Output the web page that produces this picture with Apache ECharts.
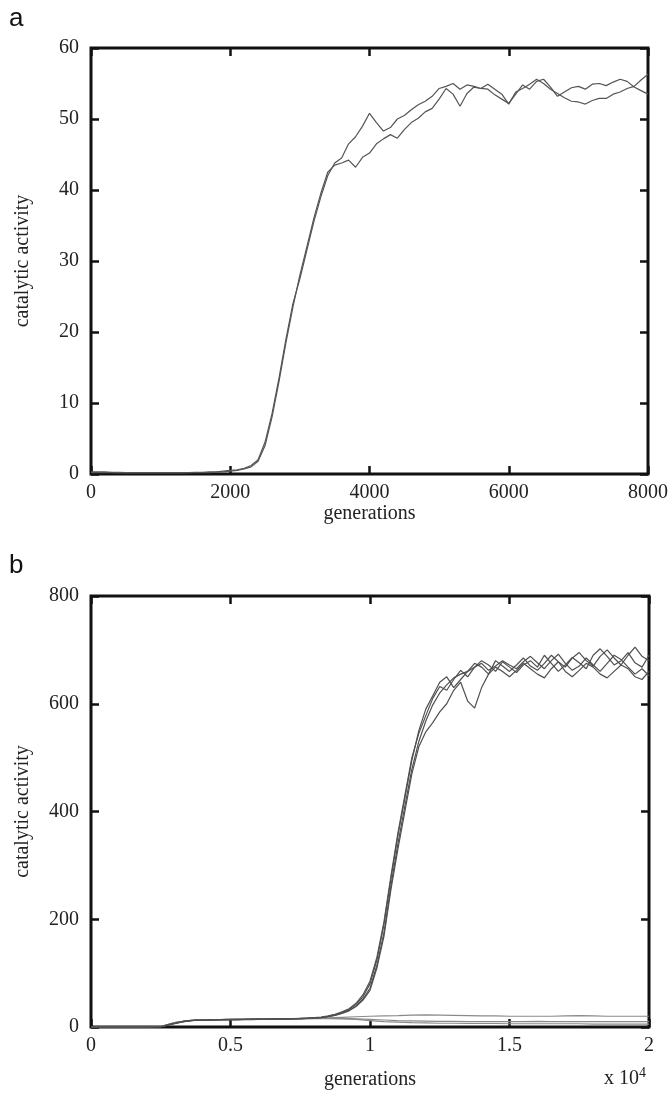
<!DOCTYPE html>
<html>
<head>
<meta charset="utf-8">
<script src="https://cdn.jsdelivr.net/npm/echarts@6/dist/echarts.min.js"></script>
<style>
html,body{margin:0;padding:0;background:#fff;}
#chart{width:671px;height:1093px;}
</style>
</head>
<body>
<div id="chart"></div>
<script>
// ---------- Panel a ----------
const genA = [0,100,200,300,400,500,600,700,800,900,1000,1100,1200,1300,1400,1500,1600,1700,1800,1900,2000,
2100,2200,2300,2400,2500,2600,2700,2800,2900,3000,3100,3200,3300,3400,3500,3600,3700,3800,3900,4000,
4100,4200,4300,4400,4500,4600,4700,4800,4900,5000,5100,5200,5300,5400,5500,5600,5700,5800,5900,6000,
6100,6200,6300,6400,6500,6600,6700,6800,6900,7000,7100,7200,7300,7400,7500,7600,7700,7800,7900,8000];
const topA = [0.3,0.3,0.3,0.25,0.25,0.2,0.2,0.2,0.2,0.2,0.2,0.2,0.2,0.2,0.2,0.25,0.25,0.3,0.3,0.4,0.5,
0.6,0.8,1.2,2.0,4.5,8.5,13.5,19,24,27.5,31.5,35.5,39,42,43.8,44.5,46.5,47.5,49,50.8,
49.5,48.3,48.8,50,50.5,51.3,52,52.5,53.2,54.3,54.6,55,54.2,54.8,54.6,54.3,54.2,53.4,52.8,52.2,
53.5,54.8,54.2,55.3,55.6,54.5,53.2,53.8,54.4,54.6,54.2,54.9,55.0,54.7,55.2,55.6,55.3,54.5,54.0,53.5];
const topB = [0.2,0.2,0.2,0.2,0.15,0.15,0.15,0.15,0.15,0.15,0.15,0.15,0.15,0.15,0.2,0.2,0.2,0.2,0.25,0.3,0.4,
0.5,0.7,1.0,1.8,4.0,8.0,13.0,18.5,23.5,28,32,36,39.5,42.5,43.5,43.8,44.2,43.2,44.6,45.2,
46.5,47.2,47.8,47.3,48.5,49.5,50.1,51,51.5,52.8,54.3,53.5,51.8,53.6,54.5,54.3,54.9,54.2,53.5,52.1,
53.8,54.3,54.9,55.6,55.0,54.2,53.6,53.0,52.5,52.4,52.1,52.6,52.9,52.9,53.5,53.8,54.3,54.6,55.5,56.3];
const ticksA_x = [0,2000,4000,6000,8000];
const ticksA_y = [0,10,20,30,40,50,60];

// ---------- Panel b ----------
const genB = [0,250,500,750,1000,1250,1500,1750,2000,2250,2500,2750,3000,3250,3500,3750,4000,4250,4500,4750,
5000,5250,5500,5750,6000,6250,6500,6750,7000,7250,7500,7750,8000,8250,8500,8750,9000,9250,9500,9750,
10000,10250,10500,10750,11000,11250,11500,11750,12000,12250,12500,12750,13000,13250,13500,13750,14000,14250,14500,14750,
15000,15250,15500,15750,16000,16250,16500,16750,17000,17250,17500,17750,18000,18250,18500,18750,19000,19250,19500,19750,20000];
const riseR1 = [0,0,0,0,0,0,0,0,0,0,
0.5,4,7,10,12,13,13,13.5,13.5,14,
14,14,14,14.5,14.5,14.5,15,15,15,15.5,
16,16.5,17,18,20,23,27,33,42,56,
80,125,190,275,355,425,495,550,590,615,
640,650,630,645,660,675,668,655,680,670,
660,672,685,670,662,675,690,678,668,685,
695,680,670,688,700,685,672,690,705,688,680];
const riseR2 = [0,0,0,0,0,0,0,0,0,0,
0.3,3.5,6.5,9.5,11.5,12.5,12.5,13,13,13.5,
13.5,13.5,14,14,14,14,14.5,14.5,15,15,
15.5,16,16.5,17.5,19,22,26,31,39,52,
72,115,175,262,340,410,478,530,568,598,
620,635,648,655,660,668,675,662,670,680,
672,665,678,688,676,665,680,692,675,662,
670,685,672,660,675,690,682,668,655,665,652];
const riseR3 = [0,0,0,0,0,0,0,0,0,0,
0.4,3.8,7,10,12,12.8,13,13.2,13.5,13.8,
13.8,14,14,14.2,14.5,14.8,15,15.2,15.5,15.8,
16,16.5,17.5,18.5,20.5,23.5,28,34,44,60,
85,130,195,280,360,430,500,545,578,610,
632,625,645,662,650,668,680,672,660,678,
668,658,672,680,668,690,675,660,672,686,
676,665,690,702,688,672,680,695,676,668,690];
const riseR4 = [0,0,0,0,0,0,0,0,0,0,
0.3,3.2,6.2,9.2,11.2,12.2,12.5,12.8,13,13.2,
13.2,13.3,13.5,13.8,14,14.2,14.3,14.5,14.8,15,
15.2,15.8,16.5,17.5,19,21.5,25,30,38,50,
68,110,168,255,330,400,470,520,548,565,
585,600,625,640,605,592,630,655,668,660,
650,662,675,665,655,648,665,678,660,650,
662,675,668,655,648,660,672,665,650,645,660];
const genFlat = [0,500,1000,1500,2000,2500,3000,3500,4000,4500,5000,5500,6000,6500,7000,7500,8000,8500,9000,9500,
10000,10500,11000,11500,12000,12500,13000,13500,14000,14500,15000,15500,16000,16500,17000,17500,18000,18500,19000,19500,20000];
const flatF1 = [0,0,0,0,0,1,8,12,13,13.5,14,14,14.5,15,15,15.5,16,17,18,19,
20,20.5,21,22,22.5,22,21.5,21,20.5,20.5,20,20,20,20,20.5,21,20.5,20,20,20,20];
const flatF2 = [0,0,0,0,0,1,8,12,13,13.5,14,14,14.5,15,15,15.5,16,16,16,15,
14,13,12,11.5,11,10.5,10.5,10,10,10,10,10,10.5,10,10,10,10,10,10,10,10];
const flatF3 = [0,0,0,0,0,1,8,12,13,13.5,14,14,14.5,15,15,15.5,15.5,15.5,15,14,
12,10,9,8,7.5,7,7,6.5,6.5,6.5,6,6,6,6,6,6,5.5,5.5,5.5,5.5,5.5];
const ticksB_x = [0,5000,10000,15000,20000];
const ticksB_xLabels = ['0','0.5','1','1.5','2'];
const ticksB_y = [0,200,400,600,800];

function pairs(xs, ys){ return xs.map((x,i)=>[x, ys[i]]); }

const SERIF = 'Liberation Serif, Times New Roman, serif';
const FS = 20;
const lab = {fontFamily: SERIF, fontSize: FS, color: '#222'};
const tickStyle = {show:true, inside:true, length:8, lineStyle:{color:'#111', width:2.5}};
const noLine = {show:false, onZero:false};

function xAx(gridIndex, max, interval, formatter, name, nameGap){
  return [{
    type:'value', gridIndex, min:0, max, interval, position:'bottom',
    axisLine:noLine, axisTick:tickStyle, splitLine:{show:false},
    axisLabel:Object.assign({margin:9, formatter}, lab),
    name, nameLocation:'middle', nameGap,
    nameTextStyle:{fontFamily:SERIF, fontSize:FS, color:'#222'}
  },{
    type:'value', gridIndex, min:0, max, interval, position:'top',
    axisLine:noLine, axisTick:tickStyle, splitLine:{show:false},
    axisLabel:{show:false}
  }];
}
function yAx(gridIndex, max, interval){
  return [{
    type:'value', gridIndex, min:0, max, interval, position:'left',
    axisLine:noLine, axisTick:tickStyle, splitLine:{show:false},
    axisLabel:Object.assign({margin:12}, lab),
    name:'catalytic activity', nameLocation:'middle', nameGap:58,
    nameTextStyle:{fontFamily:SERIF, fontSize:FS, color:'#222'}
  },{
    type:'value', gridIndex, min:0, max, interval, position:'right',
    axisLine:noLine, axisTick:tickStyle, splitLine:{show:false},
    axisLabel:{show:false}
  }];
}

const xb = (v)=> { const i = ticksB_x.indexOf(v); return i >= 0 ? ticksB_xLabels[i] : ''; };
const xa = (v)=> String(v);

function line(name, data, xi, yi, color){
  return {name, type:'line', data, xAxisIndex:xi, yAxisIndex:yi, showSymbol:false, symbol:'none',
    lineStyle:{color, width:1.2}, animation:false, z:3};
}

const chart = echarts.init(document.getElementById('chart'), null, {renderer:'canvas'});
chart.setOption({
  backgroundColor:'#fff',
  animation:false,
  grid:[
    {left:91, top:48, width:558, height:426, show:true, borderColor:'#111', borderWidth:3, backgroundColor:'transparent'},
    {left:91, top:596, width:558, height:431, show:true, borderColor:'#111', borderWidth:3, backgroundColor:'transparent'}
  ],
  xAxis:[...xAx(0, 8000, 2000, xa, 'generations', 26), ...xAx(1, 20000, 5000, xb, 'generations', 43)],
  yAxis:[...yAx(0, 60, 10), ...yAx(1, 800, 200)],
  series:[
    line('a1', pairs(genA, topA), 0, 0, '#555'),
    line('a2', pairs(genA, topB), 0, 0, '#555'),
    line('f1', pairs(genFlat, flatF1), 2, 2, '#8a8a8a'),
    line('f2', pairs(genFlat, flatF2), 2, 2, '#8a8a8a'),
    line('f3', pairs(genFlat, flatF3), 2, 2, '#8a8a8a'),
    line('r1', pairs(genB, riseR1), 2, 2, '#505050'),
    line('r2', pairs(genB, riseR2), 2, 2, '#505050'),
    line('r3', pairs(genB, riseR3), 2, 2, '#505050'),
    line('r4', pairs(genB, riseR4), 2, 2, '#505050')
  ],
  graphic:[
    {type:'text', left:9, top:6, style:{text:'a', font:'26px Liberation Sans, Arial, sans-serif', fill:'#111'}},
    {type:'text', left:9, top:553, style:{text:'b', font:'26px Liberation Sans, Arial, sans-serif', fill:'#111'}},
    {type:'text', left:604, top:1066, style:{
      text:'x 10{s|4}', font:'20px Liberation Serif, serif', fill:'#222',
      rich:{s:{fontSize:14, fontFamily:SERIF, fill:'#222', verticalAlign:'top', padding:[0,0,12,0]}}
    }}
  ]
});
</script>
</body>
</html>
